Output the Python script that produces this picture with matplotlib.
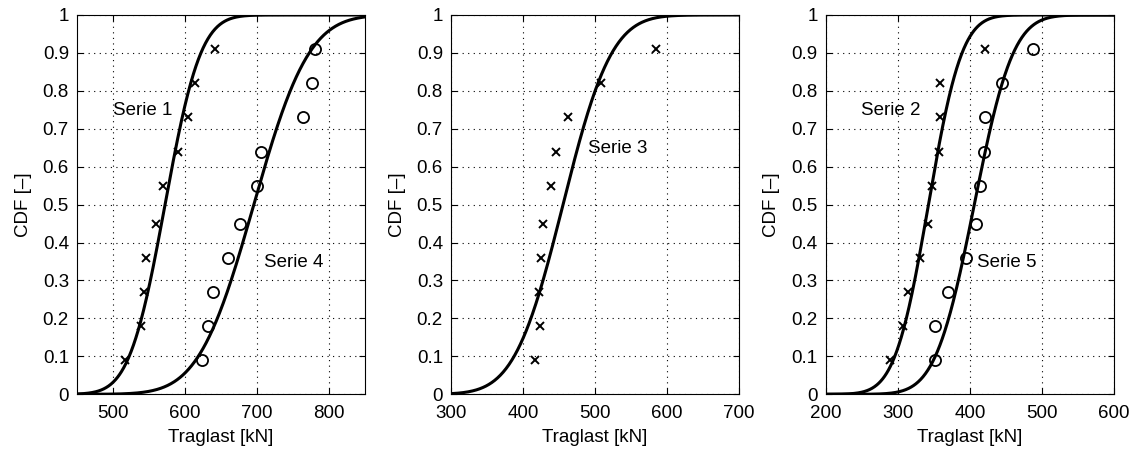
import numpy as np
import matplotlib
matplotlib.use('Agg')
import matplotlib.pyplot as plt
from matplotlib.ticker import FuncFormatter
from math import erf, sqrt

# Stufen der empirischen CDF (i/11)
cdf_stufen = [0.09, 0.18, 0.27, 0.36, 0.45, 0.55, 0.64, 0.73, 0.82, 0.91]

# Traglasten [kN] je Serie
serie1 = [517, 539, 543, 545, 559, 569, 590, 604, 613, 641]
serie2 = [289, 307, 314, 330, 342, 347, 357, 358, 359, 421]
serie3 = [417, 423, 422, 425, 427, 439, 445, 462, 508, 585]
serie4 = [623, 632, 638, 660, 676, 700, 705, 764, 776, 780]
serie5 = [351, 352, 369, 394, 409, 414, 419, 421, 445, 488]

plt.rcParams['font.family'] = ['Liberation Sans', 'DejaVu Sans']
plt.rcParams['font.size'] = 13.5


def normal_cdf(x, werte):
    # Normalverteilung mit Mittelwert und Standardabweichung der Serie
    mu = np.mean(werte)
    sig = np.std(werte, ddof=1)
    return np.array([0.5 * (1 + erf((xi - mu) / (sig * sqrt(2)))) for xi in x])


fig = plt.figure(figsize=(11.32, 4.5), dpi=100)

panels = [
    # (left, xlim, xticks, kreuz-serien, kreis-serien, texte)
    (0.0683, (450, 850), [500, 600, 700, 800], [serie1], [serie4],
     [('Serie 1', 500, 0.747), ('Serie 4', 710, 0.347)]),
    (0.3987, (300, 700), [300, 400, 500, 600, 700], [serie3], [],
     [('Serie 3', 490, 0.647)]),
    (0.7297, (200, 600), [200, 300, 400, 500, 600], [serie2], [serie5],
     [('Serie 2', 249, 0.747), ('Serie 5', 410, 0.347)]),
]

for left, xlim, xt, kreuze, kreise, texte in panels:
    ax = fig.add_axes([left, 0.1238, 0.2541, 0.8429])
    x = np.linspace(xlim[0], xlim[1], 600)

    for s in kreuze:
        ax.plot(x, normal_cdf(x, s), color='black', lw=2.2, zorder=3)
        ax.plot(s, cdf_stufen, linestyle='none', marker='x', color='black',
                ms=6, mew=1.4, zorder=4)
    for s in kreise:
        ax.plot(x, normal_cdf(x, s), color='black', lw=2.2, zorder=3)
        ax.plot(s, cdf_stufen, linestyle='none', marker='o', mfc='none',
                mec='black', ms=8, mew=1.3, zorder=4)

    for txt, tx, ty in texte:
        ax.text(tx, ty, txt, ha='left', va='center', fontsize=13.5)

    ax.set_xlim(xlim)
    ax.set_ylim(0, 1)
    ax.set_xticks(xt)
    ax.set_yticks(np.arange(0, 1.01, 0.1))
    ax.yaxis.set_major_formatter(FuncFormatter(lambda v, p: '%g' % round(v, 1)))
    ax.grid(True, color='black', linestyle=(0, (1, 4)), lw=0.8)
    ax.tick_params(direction='in', top=True, right=True, length=4,
                   labelsize=13.5, pad=6)
    ax.tick_params(axis='x', pad=8)
    for sp in ax.spines.values():
        sp.set_linewidth(0.8)
    ax.set_xlabel('Traglast [kN]', fontsize=13.5, labelpad=5)
    ax.set_ylabel('CDF [–]', fontsize=13.5, labelpad=8)

fig.savefig('out.png', dpi=100)
